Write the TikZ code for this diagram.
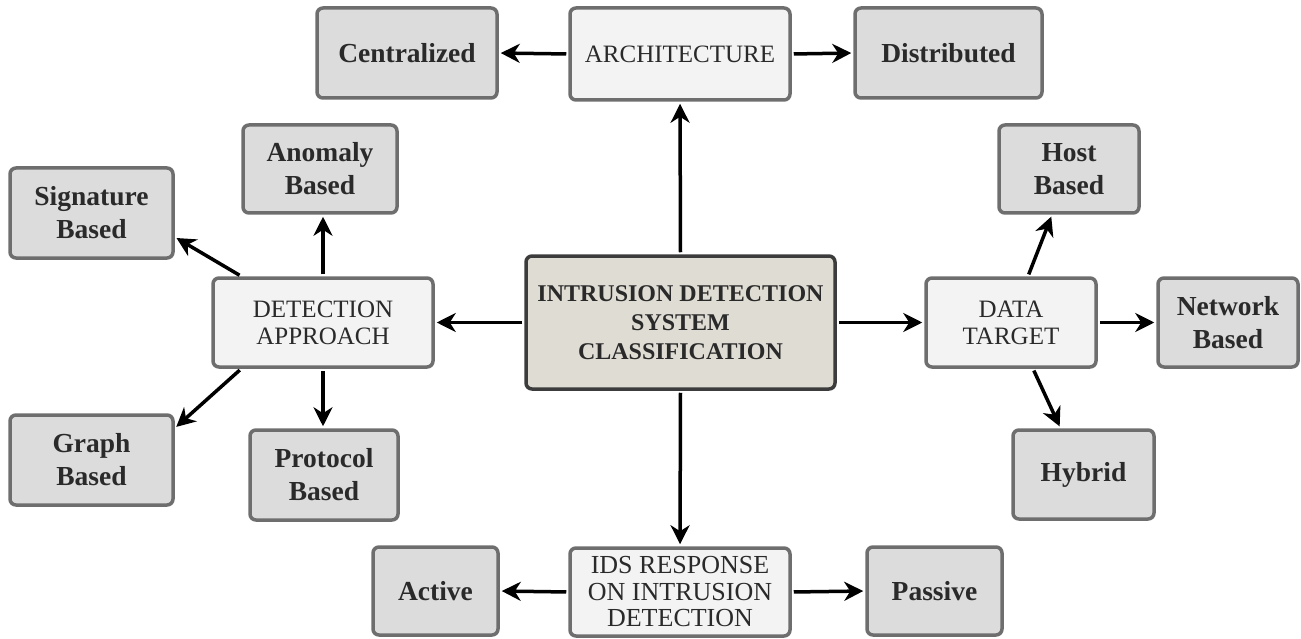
\documentclass[tikz,border=0pt]{standalone}
\usepackage{fontspec}
\setmainfont{Liberation Serif}
\usetikzlibrary{arrows.meta,calc}

\definecolor{leaffill}{HTML}{DCDCDC}
\definecolor{catfill}{HTML}{F3F3F3}
\definecolor{corefill}{HTML}{DEDCD3}
\definecolor{edgegray}{HTML}{6E6E6E}
\definecolor{coreedge}{HTML}{3C3C3C}
\definecolor{ink}{HTML}{2A2A2A}

\tikzset{
  box/.style={draw=edgegray, line width=3.5pt, rounded corners=6pt, align=center,
              text=ink, inner sep=0pt},
  leaf/.style={box, fill=leaffill, font=\fontsize{27.5}{33}\selectfont\bfseries},
  cat/.style={box, fill=catfill, font=\fontsize{25}{27}\selectfont},
  core/.style={box, fill=corefill, draw=coreedge, font=\fontsize{24}{29}\selectfont\bfseries},
  arr/.style={-{Stealth[length=19pt,width=19pt,inset=6pt]}, line width=3.5pt, black,
              shorten >=2pt, shorten <=2pt},
}

\begin{document}
\begin{tikzpicture}[x=1pt,y=-1pt]
\useasboundingbox (0,0) rectangle (1301,639);

% central classification box
\node[core, minimum width=309pt, minimum height=133pt] (core) at (680.5,322.5)
  {INTRUSION DETECTION\\SYSTEM\\CLASSIFICATION};

% the four classification criteria
\node[cat, minimum width=220pt, minimum height=92pt] (arch) at (680,54) {ARCHITECTURE};
\node[cat, minimum width=220pt, minimum height=89pt] (det) at (323,322.5) {DETECTION\\APPROACH};
\node[cat, minimum width=170pt, minimum height=89pt] (dat) at (1011,322.5) {DATA\\TARGET};
\node[cat, minimum width=220pt, minimum height=88pt,
      font=\fontsize{26}{26.5}\selectfont] (ids) at (680,592) {IDS RESPONSE\\ON INTRUSION\\DETECTION};

% architecture kinds
\node[leaf, minimum width=180pt, minimum height=90pt] (cen) at (407,53) {Centralized};
\node[leaf, minimum width=187pt, minimum height=90pt] (dis) at (948.5,53) {Distributed};

% detection approaches
\node[leaf, minimum width=154pt, minimum height=88pt] (ano) at (320,169) {Anomaly\\Based};
\node[leaf, minimum width=163pt, minimum height=90pt] (sig) at (91.5,213) {Signature\\Based};
\node[leaf, minimum width=163pt, minimum height=90pt] (gra) at (91.5,460) {Graph\\Based};
\node[leaf, minimum width=148pt, minimum height=90pt] (pro) at (324,475) {Protocol\\Based};

% data targets
\node[leaf, minimum width=140pt, minimum height=88pt] (hos) at (1069,169) {Host\\Based};
\node[leaf, minimum width=140pt, minimum height=89pt] (net) at (1228,322.5) {Network\\Based};
\node[leaf, minimum width=141pt, minimum height=89pt] (hyb) at (1083.5,474.5) {Hybrid};

% responses
\node[leaf, minimum width=125pt, minimum height=88pt] (act) at (435.5,591) {Active};
\node[leaf, minimum width=135pt, minimum height=88pt] (pas) at (934.5,591) {Passive};

% connectors from the centre
\draw[arr] (core.north) -- (arch.south);
\draw[arr] (core.south) -- (ids.north);
\draw[arr] (core.west) -- (det.east);
\draw[arr] (core.east) -- (dat.west);

% architecture
\draw[arr] (arch.west) -- (cen.east);
\draw[arr] (arch.east) -- (dis.west);

% detection approach
\draw[arr] (det.north) -- (det.north |- ano.south);
\draw[arr] (det.south) -- (det.south |- pro.north);
\draw[arr] ([xshift=30pt]det.north west) -- ([yshift=-24pt]sig.east);
\draw[arr] ([xshift=30pt]det.south west) -- ([yshift=-15pt]gra.north east);

% data target
\draw[arr] ([xshift=17pt]dat.north) -- ([xshift=-17pt]hos.south);
\draw[arr] (dat.east) -- (net.west);
\draw[arr] ([xshift=22pt]dat.south) -- ([xshift=-23pt]hyb.north);

% response
\draw[arr] (ids.west) -- (act.east);
\draw[arr] (ids.east) -- (pas.west);
\end{tikzpicture}
\end{document}
